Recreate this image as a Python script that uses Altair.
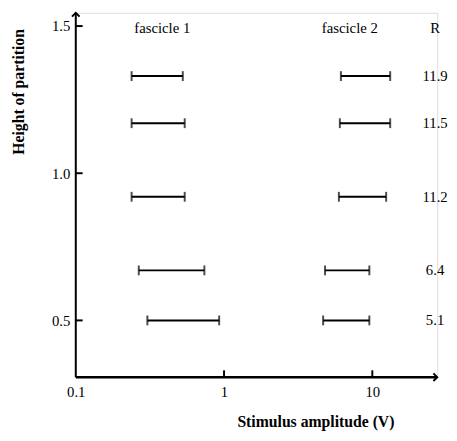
import altair as alt
import pandas as pd

# ---- data ----
heights = [1.33, 1.17, 0.92, 0.67, 0.50]
f1_low = [0.238, 0.238, 0.238, 0.266, 0.304]
f1_high = [0.527, 0.543, 0.543, 0.737, 0.927]
f2_low = [6.14, 6.04, 5.95, 4.80, 4.66]
f2_high = [13.2, 13.2, 12.4, 9.55, 9.55]
r_values = ["11.9", "11.5", "11.2", "6.4", "5.1"]
header_labels = ["fascicle 1", "fascicle 2", "R"]
header_x = [0.383, 7.05, 26.5]
header_y = [1.492, 1.492, 1.492]
r_x = [26.5] * 5
x_ticks = [0.1, 1, 10]
y_ticks = [0.5, 1.0, 1.5]
X_DOMAIN = [0.1, 27.4]
Y_DOMAIN = [0.307, 1.545]

FONT = "Liberation Serif"

bars = pd.DataFrame({
    "low": f1_low + f2_low,
    "high": f1_high + f2_high,
    "h": heights + heights,
})
caps = pd.DataFrame({
    "v": f1_low + f1_high + f2_low + f2_high,
    "h": heights * 4,
})
rtext = pd.DataFrame({"x": r_x, "h": heights, "t": r_values})
headers = pd.DataFrame({"x": header_x, "h": header_y, "t": header_labels})
xt = pd.DataFrame({"v": x_ticks[1:]})
yt = pd.DataFrame({"h": y_ticks})
corner = pd.DataFrame({"x0": [X_DOMAIN[0]], "x1": [X_DOMAIN[1]],
                       "y0": [Y_DOMAIN[0]], "y1": [Y_DOMAIN[1]]})

xscale = alt.Scale(type="log", domain=X_DOMAIN, nice=False)
yscale = alt.Scale(domain=Y_DOMAIN, nice=False, zero=False)

xaxis = alt.Axis(values=x_ticks, format="~g", domain=False, ticks=False, grid=False,
                 labelFont=FONT, labelFontSize=15, labelColor="black", labelPadding=8,
                 labelFlush=False,
                 title="Stimulus amplitude (V)", titleFont=FONT, titleFontSize=16,
                 titleFontWeight="bold", titleColor="black",
                 titleX=244, titleY=50, titleAlign="center", titleBaseline="alphabetic")
yaxis = alt.Axis(values=y_ticks, format=".1f", domain=False, ticks=False, grid=False,
                 labelFont=FONT, labelFontSize=15, labelColor="black", labelPadding=6,
                 labelFlush=False,
                 title="Height of partition", titleFont=FONT, titleFontSize=16,
                 titleFontWeight="bold", titleColor="black",
                 titleX=-58, titleY=80, titleAngle=270, titleAlign="center",
                 titleBaseline="middle")


def X(f):
    return alt.X(f, type="quantitative", scale=xscale, axis=xaxis)


def Y(f):
    return alt.Y(f, type="quantitative", scale=yscale, axis=yaxis)


bar_layer = alt.Chart(bars).mark_rule(color="black", strokeWidth=2).encode(
    x=X("low"), x2="high", y=Y("h"))
cap_layer = alt.Chart(caps).mark_tick(color="black", orient="vertical", size=10,
                                      thickness=2).encode(x=X("v"), y=Y("h"))
r_layer = alt.Chart(rtext).mark_text(font=FONT, fontSize=15, color="black",
                                     align="center", baseline="middle").encode(
    x=X("x"), y=Y("h"), text="t")
head_layer = alt.Chart(headers).mark_text(font=FONT, fontSize=15, color="black",
                                          align="center", baseline="middle").encode(
    x=X("x"), y=Y("h"), text="t")

yline = alt.Chart(corner).mark_rule(color="black", strokeWidth=2).encode(
    x=X("x0"), y=Y("y0"), y2="y1")
xline = alt.Chart(corner).mark_rule(color="black", strokeWidth=2.5).encode(
    x=X("x0"), x2="x1", y=Y("y0"))
up_arrow = alt.Chart(corner).mark_point(
    shape="M-1,1L0,0L1,1", size=60, filled=False, color="black", strokeWidth=2,
    opacity=1).encode(x=X("x0"), y=Y("y1"))
right_arrow = alt.Chart(corner).mark_point(
    shape="M-1,-1L0,0L-1,1", size=60, filled=False, color="black", strokeWidth=2,
    opacity=1).encode(x=X("x1"), y=Y("y0"))
xtick_layer = alt.Chart(xt).mark_rule(color="black", strokeWidth=2).encode(
    x=X("v"), y=alt.value(371), y2=alt.value(364))
ytick_layer = alt.Chart(yt).mark_rule(color="black", strokeWidth=2).encode(
    x=alt.value(0), x2=alt.value(7), y=Y("h"))

chart = alt.layer(
    bar_layer, cap_layer, r_layer, head_layer, yline, xline,
    up_arrow, right_arrow, xtick_layer, ytick_layer
).properties(
    width=368, height=371,
    autosize=alt.AutoSizeParams(type="none"),
    padding={"left": 69, "top": 1, "right": 12, "bottom": 59},
).configure_view(stroke=None).configure(background="white")

chart.save("out.html", embed_options={"renderer": "svg", "actions": False})
